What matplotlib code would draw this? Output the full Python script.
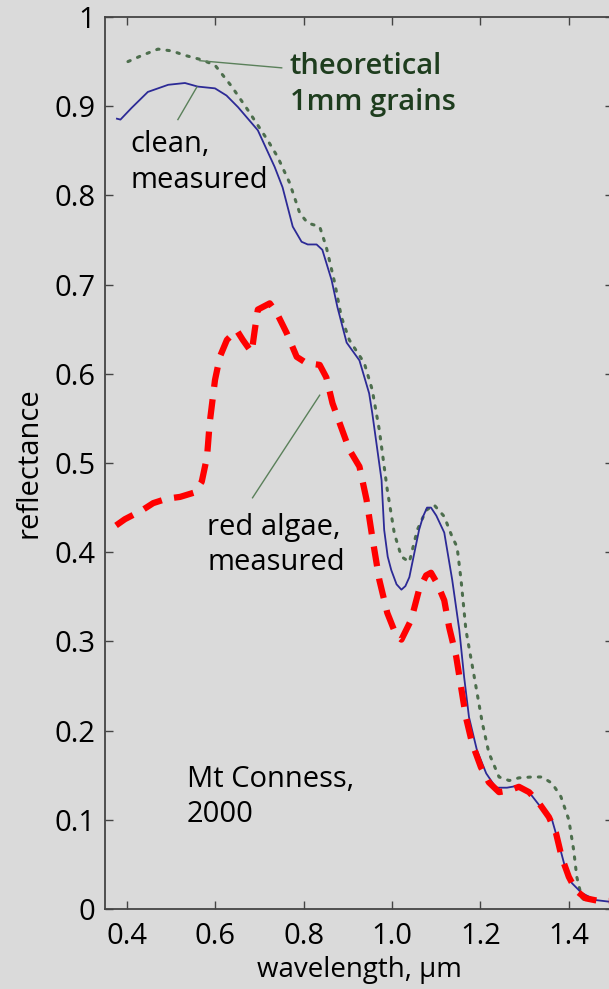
import matplotlib
matplotlib.use("Agg")
import matplotlib.pyplot as plt

plt.rcParams['font.family'] = ['Open Sans', 'DejaVu Sans']

# clean, measured
clean_x = [0.377, 0.385, 0.410, 0.447, 0.493, 0.531, 0.560, 0.599, 0.625, 0.651, 0.696, 0.734, 0.752,
           0.775, 0.795, 0.809, 0.829, 0.842, 0.863, 0.876, 0.897, 0.926, 0.948, 0.955, 0.976,
           0.982, 0.990, 0.998, 1.010, 1.021, 1.030, 1.039, 1.061, 1.070, 1.079, 1.088, 1.100,
           1.118, 1.136, 1.152, 1.163, 1.174, 1.192, 1.213, 1.235, 1.260, 1.283, 1.310, 1.332,
           1.362, 1.377, 1.393, 1.407, 1.429, 1.461, 1.495]
clean_y = [0.886, 0.885, 0.898, 0.916, 0.924, 0.926, 0.922, 0.920, 0.912, 0.899, 0.873, 0.832, 0.809,
           0.765, 0.748, 0.745, 0.745, 0.739, 0.705, 0.675, 0.635, 0.615, 0.578, 0.556, 0.481,
           0.425, 0.395, 0.380, 0.364, 0.358, 0.362, 0.372, 0.425, 0.440, 0.450, 0.450, 0.441,
           0.422, 0.369, 0.313, 0.260, 0.215, 0.178, 0.152, 0.136, 0.136, 0.138, 0.131, 0.117,
           0.100, 0.074, 0.044, 0.029, 0.018, 0.010, 0.008]

# theoretical 1mm grains
theo_x = [0.402, 0.434, 0.470, 0.501, 0.531, 0.569, 0.599, 0.637, 0.673, 0.718, 0.741, 0.768,
          0.791, 0.809, 0.836, 0.851, 0.870, 0.885, 0.903, 0.937, 0.955, 0.971, 0.989, 1.005,
          1.021, 1.039, 1.057, 1.077, 1.095, 1.118, 1.136, 1.147, 1.156, 1.167, 1.186, 1.204,
          1.219, 1.242, 1.265, 1.287, 1.316, 1.339, 1.362, 1.382, 1.400, 1.411, 1.418, 1.429, 1.441]
theo_y = [0.950, 0.957, 0.964, 0.962, 0.957, 0.952, 0.946, 0.922, 0.896, 0.862, 0.843, 0.814,
          0.780, 0.769, 0.765, 0.742, 0.702, 0.664, 0.638, 0.612, 0.582, 0.537, 0.470, 0.421,
          0.395, 0.389, 0.425, 0.447, 0.453, 0.440, 0.417, 0.406, 0.369, 0.313, 0.260, 0.209,
          0.175, 0.148, 0.144, 0.147, 0.148, 0.148, 0.141, 0.126, 0.100, 0.066, 0.036, 0.013, 0.007]

# red algae, measured
algae_x = [0.375, 0.395, 0.434, 0.459, 0.490, 0.520, 0.553, 0.569, 0.581, 0.587, 0.599, 0.610,
           0.626, 0.648, 0.662, 0.682, 0.689, 0.696, 0.723, 0.739, 0.761, 0.784, 0.806, 0.836,
           0.851, 0.865, 0.881, 0.903, 0.926, 0.942, 0.955, 0.971, 0.989, 1.009, 1.021, 1.043,
           1.061, 1.077, 1.088, 1.102, 1.118, 1.129, 1.145, 1.167, 1.181, 1.201, 1.219, 1.242,
           1.265, 1.287, 1.310, 1.332, 1.355, 1.371, 1.384, 1.400, 1.416, 1.438, 1.468, 1.495]
algae_y = [0.430, 0.437, 0.447, 0.455, 0.460, 0.462, 0.467, 0.479, 0.507, 0.545, 0.593, 0.619,
           0.638, 0.649, 0.638, 0.624, 0.649, 0.672, 0.679, 0.668, 0.646, 0.619, 0.612, 0.610,
           0.596, 0.567, 0.545, 0.515, 0.496, 0.459, 0.417, 0.369, 0.332, 0.307, 0.302, 0.324,
           0.358, 0.374, 0.377, 0.365, 0.346, 0.316, 0.283, 0.215, 0.186, 0.159, 0.142, 0.131,
           0.133, 0.137, 0.131, 0.119, 0.103, 0.085, 0.058, 0.036, 0.021, 0.012, 0.009, 0.009]

xticks = [0.4, 0.6, 0.8, 1.0, 1.2, 1.4]
xtick_labels = ['0.4', '0.6', '0.8', '1.0', '1.2', '1.4']
yticks = [0, 0.1, 0.2, 0.3, 0.4, 0.5, 0.6, 0.7, 0.8, 0.9, 1]
ytick_labels = ['0', '0.1', '0.2', '0.3', '0.4', '0.5', '0.6', '0.7', '0.8', '0.9', '1']

bg = '#dadada'
fig = plt.figure(figsize=(6.09, 9.89), dpi=100, facecolor=bg)
ax = fig.add_axes([105/609, 80/989, 508/609, 892/989], facecolor=bg)

ax.plot(theo_x, theo_y, color='#4d6e4d', lw=2.2, linestyle=(0, (0.8, 2.6)),
        dash_capstyle='round', zorder=2)
ax.plot(clean_x, clean_y, color='#2c2a96', lw=1.3, zorder=3, solid_joinstyle='round')
ax.plot(algae_x, algae_y, color='#ff0000', lw=4.5, linestyle=(0, (3.2, 2.0)),
        dash_capstyle='butt', zorder=4)

ax.set_xlim(0.35, 1.5)
ax.set_ylim(0, 1)
ax.set_xticks(xticks)
ax.set_xticklabels(xtick_labels)
ax.set_yticks(yticks)
ax.set_yticklabels(ytick_labels)
ax.tick_params(direction='in', length=6, width=1, color='#444444', labelsize=21,
               top=True, right=True, pad=7)
ax.tick_params(axis='x', pad=9)
for s in ax.spines.values():
    s.set_color('#444444')
    s.set_linewidth(1.3)

ax.set_xlabel('wavelength, μm', fontsize=20, labelpad=4)
ax.set_ylabel('reflectance', fontsize=21, labelpad=8)

lc = '#5a805a'
ax.plot([0.565, 0.750], [0.951, 0.943], color=lc, lw=1, zorder=5)
ax.plot([0.558, 0.515], [0.9215, 0.885], color=lc, lw=1, zorder=5)
ax.plot([0.836, 0.684], [0.576, 0.461], color=lc, lw=1, zorder=5)

ax.text(0.768, 0.924, 'theoretical\n1mm grains', color='#1e3d1e', fontsize=21,
        fontweight='semibold', ha='left', va='center', linespacing=1.3)
ax.text(0.4068, 0.837, 'clean,\nmeasured', color='black', fontsize=21,
        ha='left', va='center', linespacing=1.3)
ax.text(0.581, 0.408, 'red algae,\nmeasured', color='black', fontsize=21,
        ha='left', va='center', linespacing=1.3)
ax.text(0.535, 0.1256, 'Mt Conness,\n2000', color='black', fontsize=21,
        ha='left', va='center', linespacing=1.3)

fig.savefig('out.png', dpi=100, facecolor=bg)
